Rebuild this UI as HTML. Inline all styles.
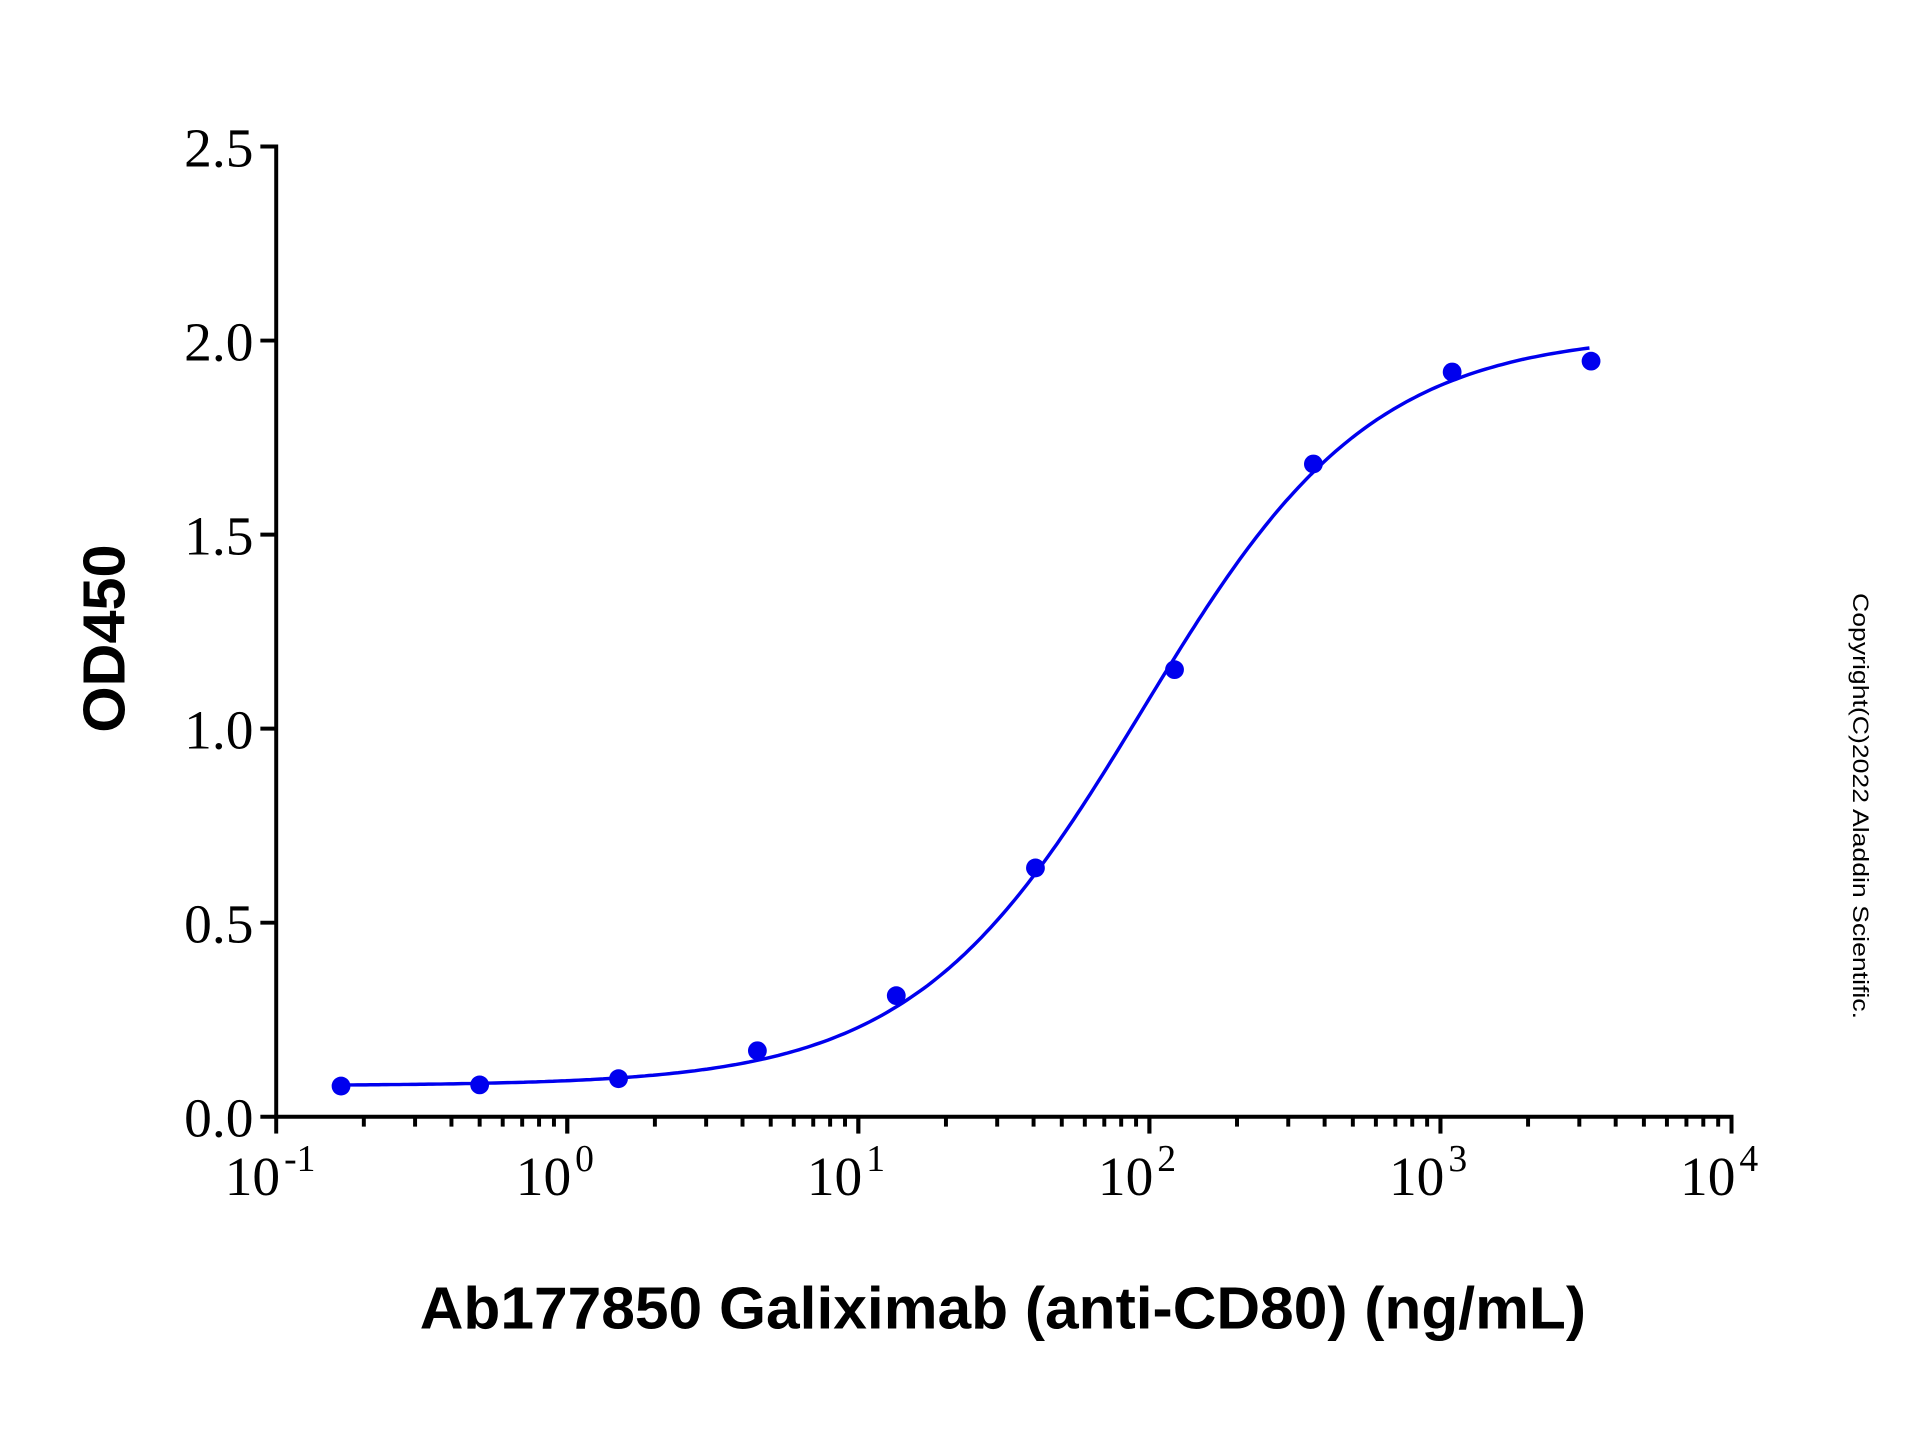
<!DOCTYPE html>
<html><head><meta charset="utf-8"><style>html,body{margin:0;padding:0;background:#fff}svg{display:block}</style></head>
<body>
<svg id="s" width="1920" height="1440" viewBox="0 0 1920 1440" xmlns="http://www.w3.org/2000/svg">
<rect width="1920" height="1440" fill="#fff"/>
<g transform="scale(0.99)">
<g id="ax" stroke="#000" stroke-width="4" fill="none">
<line x1="279" y1="146" x2="279" y2="1130"/>
<line x1="277" y1="1128" x2="1751" y2="1128"/>
</g>
<g font-family="Liberation Serif, serif" font-size="56" fill="#000" text-anchor="end">
<text x="256" y="168">2.5</text>
<text x="256" y="364">2.0</text>
<text x="256" y="560">1.5</text>
<text x="256" y="756">1.0</text>
<text x="256" y="952">0.5</text>
<text x="256" y="1148">0.0</text>
</g>
<g id="xl" font-family="Liberation Serif, serif" font-size="56" fill="#000"></g>
<path id="curve" fill="none" stroke="#0000ee" stroke-width="3.5"/>
<g id="pts" fill="#0000ee"></g>
<text x="1013" y="1342" text-anchor="middle" font-family="Liberation Sans, sans-serif" font-weight="bold" font-size="60" textLength="1178" lengthAdjust="spacingAndGlyphs">Ab177850 Galiximab (anti-CD80) (ng/mL)</text>
<text transform="translate(126,645) rotate(-90)" text-anchor="middle" font-family="Liberation Sans, sans-serif" font-weight="bold" font-size="60">OD450</text>
</g>
<text transform="translate(1853,806) rotate(90)" text-anchor="middle" font-family="Liberation Sans, sans-serif" font-size="22" textLength="426" lengthAdjust="spacingAndGlyphs">Copyright(C)2022 Aladdin Scientific.</text>
</svg>
<script>
var NS="http://www.w3.org/2000/svg";
var X0=279,D=294,Y0=1128,U=392;
function X(v){return X0+(Math.log10(v)+1)*D}
function Y(v){return Y0-v*U}
var ax=document.getElementById('ax');
function ln(x1,y1,x2,y2){var l=document.createElementNS(NS,'line');l.setAttribute('x1',x1);l.setAttribute('y1',y1);l.setAttribute('x2',x2);l.setAttribute('y2',y2);ax.appendChild(l);}
for(var i=0;i<=5;i++){var y=Y0-i*196;ln(263,y,279,y);}
for(var d=0;d<5;d++){for(var m=1;m<=10;m++){var x=X0+d*D+Math.log10(m)*D;if(m==1||m==10)ln(x,1128,x,1145);else ln(x,1128,x,1138);}}
var xl=document.getElementById('xl');
var ex=['-1','0','1','2','3','4'];
for(var k=0;k<6;k++){var t=document.createElementNS(NS,'text');t.setAttribute('x',X0+k*D-52);t.setAttribute('y',1207);
t.innerHTML='10<tspan font-size="38" dx="4" dy="-24">'+ex[k]+'</tspan>';xl.appendChild(t);}
function f(x){return 0.08+1.94/(1+Math.pow(95/x,1.1));}
var p='';for(var j=0;j<=300;j++){var lx=Math.log10(0.167)+j*(Math.log10(3250)-Math.log10(0.167))/300;var xv=Math.pow(10,lx);p+=(j?'L':'M')+X(xv).toFixed(1)+','+Y(f(xv)).toFixed(1);}
document.getElementById('curve').setAttribute('d',p);
var px=[0.167,0.5,1.5,4.5,13.5,40.6,122,366,1097,3292],py=[0.079,0.082,0.098,0.170,0.312,0.641,1.152,1.682,1.919,1.947];
var g=document.getElementById('pts');
for(var q=0;q<px.length;q++){var c=document.createElementNS(NS,'circle');c.setAttribute('cx',X(px[q]));c.setAttribute('cy',Y(py[q]));c.setAttribute('r',9.5);g.appendChild(c);}
</script>
</body></html>
